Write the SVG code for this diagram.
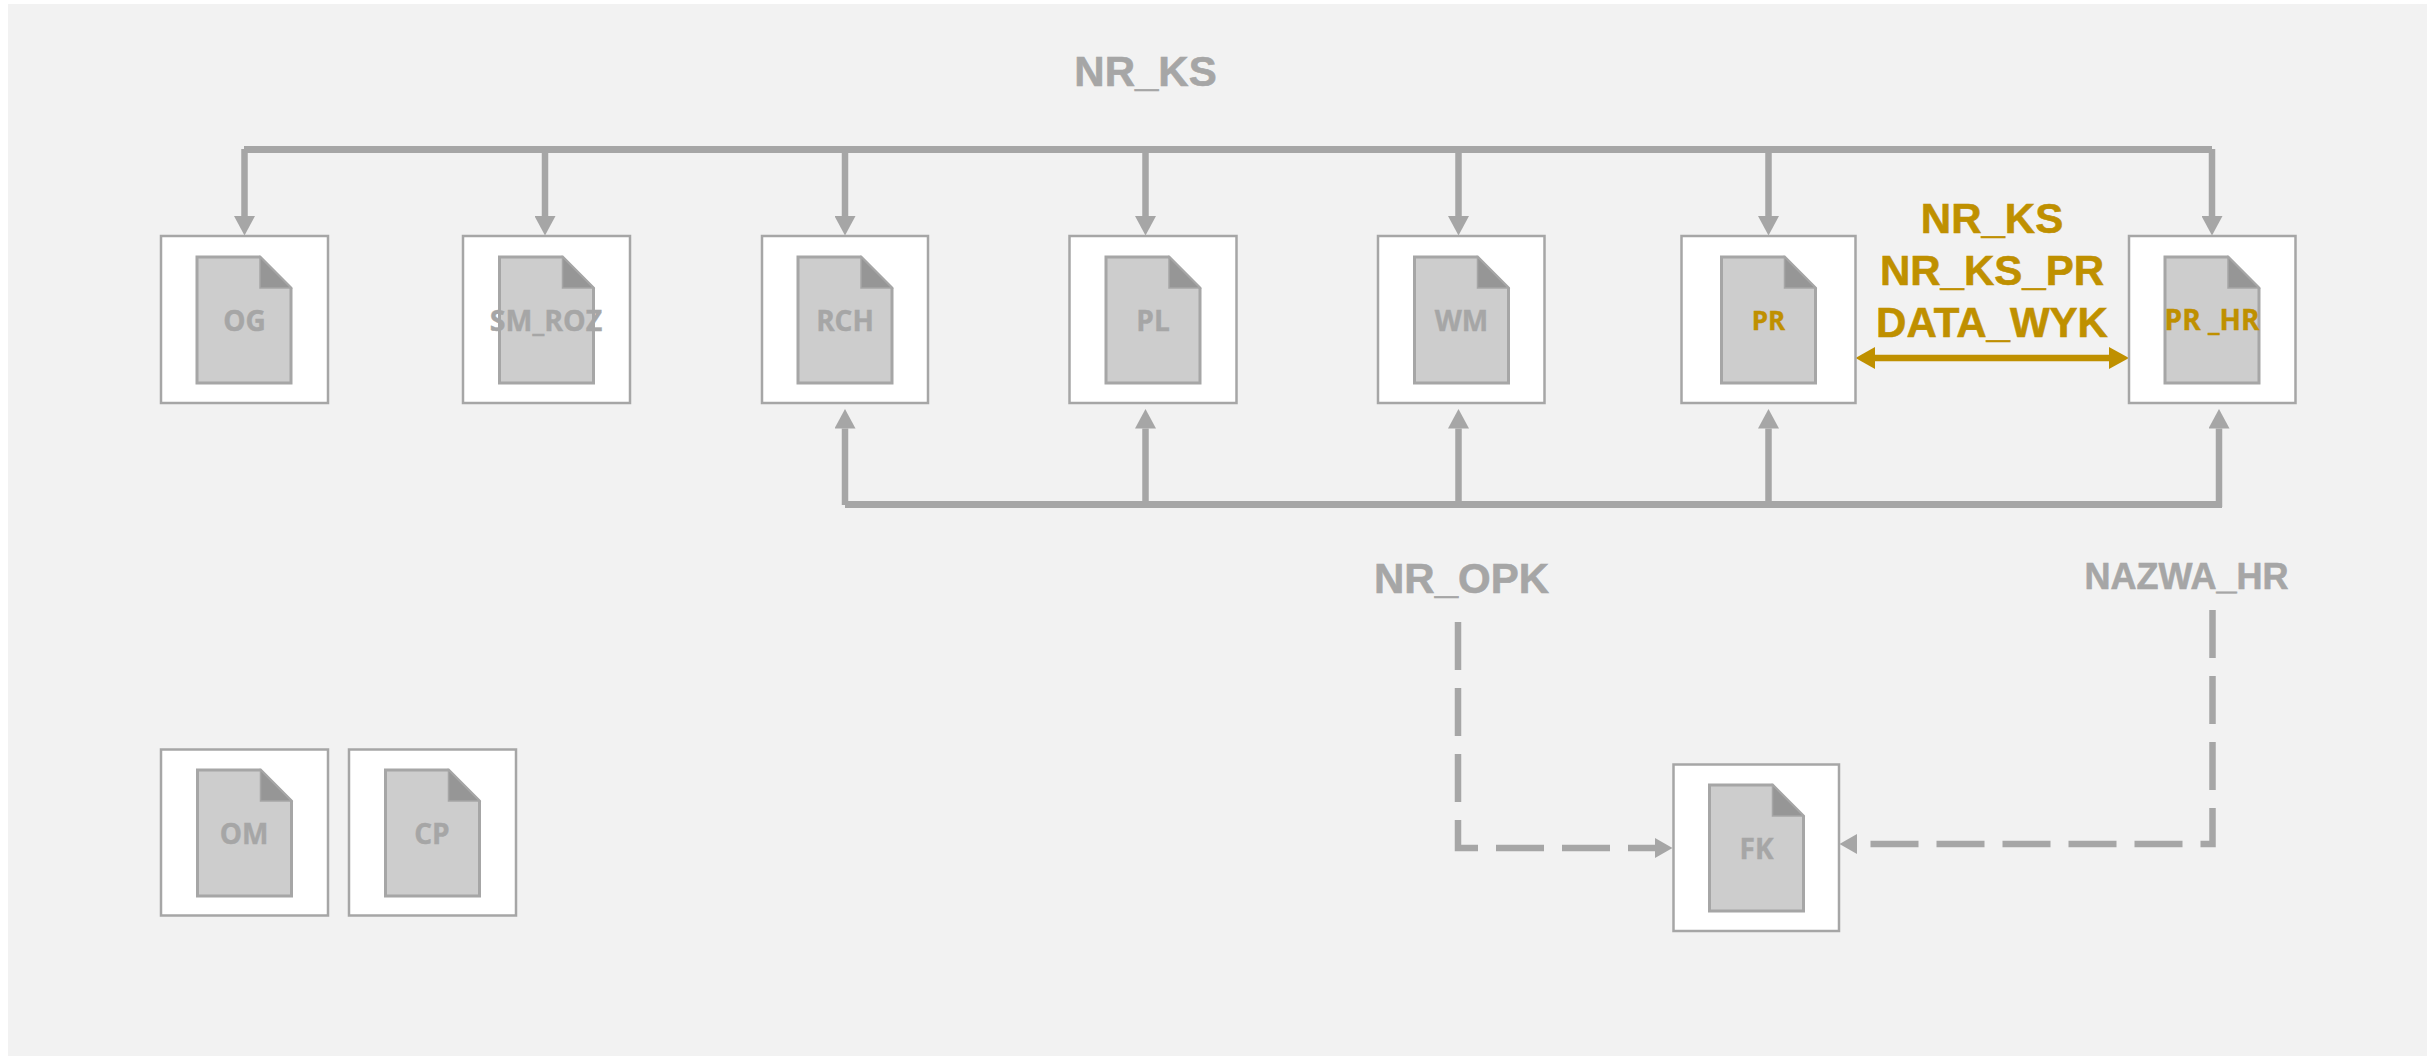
<svg xmlns="http://www.w3.org/2000/svg" width="2433" height="1056" viewBox="0 0 2433 1056">
<style>
.box{fill:#fff;stroke:#a6a6a6;stroke-width:2.5}
.page{fill:#cdcdcd;stroke:#a6a6a6;stroke-width:3;stroke-linejoin:miter}
.fold{fill:#969696;stroke:#a6a6a6;stroke-width:1.5}
.nl{font-family:"Open Sans",sans-serif;font-weight:700;font-size:28px;fill:#a6a6a6;stroke:#a6a6a6;stroke-width:.4;text-anchor:middle}
.lab{font-family:"Liberation Sans",Arial,sans-serif;font-weight:700;font-size:42px;fill:#a6a6a6;stroke:#a6a6a6;stroke-width:.6;text-anchor:middle}
.nl.gold,.lab.gold{fill:#bf9000;stroke:#bf9000}
.c{fill:none;stroke:#a6a6a6;stroke-width:6.5}
.bus{fill:none;stroke:#a6a6a6;stroke-width:7}
.d{fill:none;stroke:#a6a6a6;stroke-width:6.5;stroke-dasharray:48 18}
</style>
<defs>
<g id="doc"><path class="page" d="M0 0H63L94 31V126H0Z"/><path class="fold" d="M63 0L94 31H63Z"/></g>
<marker id="ah" markerUnits="userSpaceOnUse" markerWidth="20" markerHeight="21" refX="0" refY="10.500" orient="auto"><path d="M0 0L19.500 10.500L0 21Z" fill="#a6a6a6"/></marker>
<marker id="ad" markerUnits="userSpaceOnUse" markerWidth="18" markerHeight="20" refX="0" refY="10" orient="auto"><path d="M0 0L17.500 10L0 20Z" fill="#a6a6a6"/></marker>
<marker id="ag" markerUnits="userSpaceOnUse" markerWidth="20" markerHeight="22" refX="0" refY="11" orient="auto"><path d="M0 0L20 11L0 22Z" fill="#bf9000"/></marker>
</defs>
<rect width="2433" height="1056" fill="#fff"/>
<rect x="8" y="4" width="2419" height="1052" fill="#f2f2f2"/>
<g id="connectors">
<path class="bus" d="M244 149.500H2212"/>
<path class="c" marker-end="url(#ah)" d="M244.500 149V216"/>
<path class="c" marker-end="url(#ah)" d="M545 149V216"/>
<path class="c" marker-end="url(#ah)" d="M845 149V216"/>
<path class="c" marker-end="url(#ah)" d="M1145.500 149V216"/>
<path class="c" marker-end="url(#ah)" d="M1458.500 149V216"/>
<path class="c" marker-end="url(#ah)" d="M1768.500 149V216"/>
<path class="c" marker-end="url(#ah)" d="M2212 149V216"/>
<path class="bus" d="M845 504.500H2222"/>
<path class="c" marker-end="url(#ah)" d="M845 505V428.500"/>
<path class="c" marker-end="url(#ah)" d="M1145.500 505V428.500"/>
<path class="c" marker-end="url(#ah)" d="M1458.500 505V428.500"/>
<path class="c" marker-end="url(#ah)" d="M1768.500 505V428.500"/>
<path class="c" marker-end="url(#ah)" d="M2219 507V428.500"/>
<path d="M1875 358H2109" fill="none" stroke="#bf9000" stroke-width="6.500" marker-end="url(#ag)"/>
<path d="M1855.500 358L1875 347V369Z" fill="#bf9000"/>
<path class="d" marker-end="url(#ad)" d="M1458 622V848H1655"/>
<path class="d" marker-end="url(#ad)" d="M2212.500 610V844H1857"/>
</g>
<g id="node-OG"><rect class="box" x="161" y="236" width="167" height="167"/><use href="#doc" x="197" y="257"/><text class="nl" x="244.500" y="331">OG</text></g>
<g id="node-SM_ROZ"><rect class="box" x="463" y="236" width="167" height="167"/><use href="#doc" x="499.500" y="257"/><text class="nl" x="546" y="330.500" style="font-size:28.500px">SM_ROZ</text></g>
<g id="node-RCH"><rect class="box" x="762" y="236" width="166" height="167"/><use href="#doc" x="798" y="257"/><text class="nl" x="845" y="330.500">RCH</text></g>
<g id="node-PL"><rect class="box" x="1069.500" y="236" width="167" height="167"/><use href="#doc" x="1106" y="257"/><text class="nl" x="1153" y="330.500">PL</text></g>
<g id="node-WM"><rect class="box" x="1378" y="236" width="166.500" height="167"/><use href="#doc" x="1414.500" y="257"/><text class="nl" x="1461.500" y="330.500">WM</text></g>
<g id="node-PR"><rect class="box" x="1681.500" y="236" width="174" height="167"/><use href="#doc" x="1721.500" y="257"/><text class="nl gold" style="font-size:26px" x="1768.500" y="330">PR</text></g>
<g id="node-PR_HR"><rect class="box" x="2129" y="236" width="166.500" height="167"/><use href="#doc" x="2165" y="257"/><text class="nl gold" style="font-size:28px" x="2212" y="330">PR _HR</text></g>
<g id="node-OM"><rect class="box" x="161" y="749.500" width="167" height="166"/><use href="#doc" x="197.500" y="770"/><text class="nl" x="244" y="844">OM</text></g>
<g id="node-CP"><rect class="box" x="349" y="749.500" width="167" height="166"/><use href="#doc" x="385.500" y="770"/><text class="nl" x="432" y="844">CP</text></g>
<g id="node-FK"><rect class="box" x="1673.500" y="764.500" width="165.500" height="166.500"/><use href="#doc" x="1709.500" y="785"/><text class="nl" x="1756.500" y="858.500">FK</text></g>
<g id="labels">
<text class="lab" x="1145.500" y="86">NR_KS</text>
<text class="lab" x="1461.500" y="593">NR_OPK</text>
<text class="lab" style="font-size:36px" x="2186.500" y="588.500">NAZWA_HR</text>
<text class="lab gold" x="1992" y="233">NR_KS</text>
<text class="lab gold" x="1992" y="285">NR_KS_PR</text>
<text class="lab gold" x="1992" y="337">DATA_WYK</text>
</g>
</svg>
